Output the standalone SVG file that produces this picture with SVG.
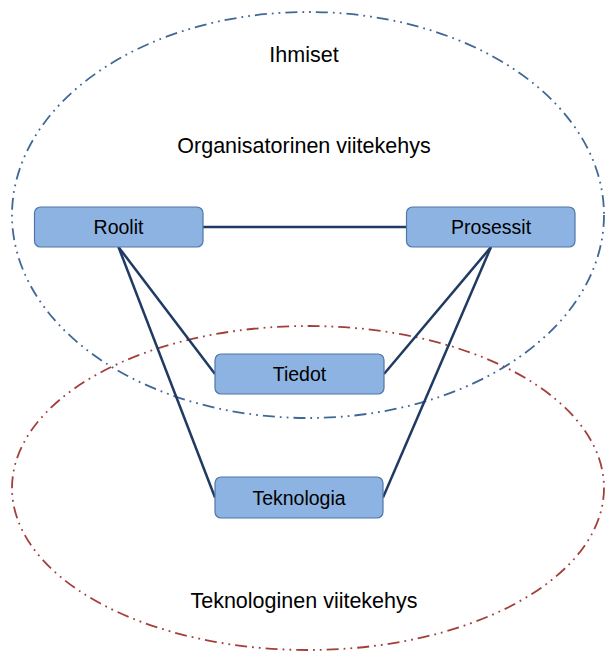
<svg xmlns="http://www.w3.org/2000/svg" width="605" height="652" viewBox="0 0 605 652">
  <style>
    .frame { fill: none; stroke-width: 1.8; stroke-dasharray: 12 5 1.8 5 1.8 5; }
    .people { stroke: #3F6797; }
    .tech { stroke: #A23F3C; }
    .box { fill: #8DB3E2; stroke: #4F76A8; stroke-width: 1.2; }
    .label { font-family: "Liberation Sans", Arial, sans-serif; fill: #000; text-anchor: middle; }
    .area { font-size: 21.5px; }
    .node { font-size: 19.5px; }
    .link { stroke: #1F3A63; stroke-width: 2.5; fill: none; }
  </style>

  <!-- overlapping frameworks -->
  <g id="frames">
    <ellipse class="frame people" cx="308" cy="215" rx="296" ry="203"/>
    <ellipse class="frame tech" cx="308" cy="488" rx="296" ry="162"/>
  </g>

  <g id="area-labels">
    <text class="label area" x="304" y="62">Ihmiset</text>
    <text class="label area" x="304" y="153">Organisatorinen viitekehys</text>
    <text class="label area" x="304" y="608">Teknologinen viitekehys</text>
  </g>

  <g id="connectors">
    <line class="link" x1="203" y1="227" x2="406.5" y2="227"/>
    <line class="link" x1="118.5" y1="247" x2="215" y2="374"/>
    <line class="link" x1="118.5" y1="247" x2="215" y2="497.5"/>
    <line class="link" x1="491" y1="247" x2="384" y2="374"/>
    <line class="link" x1="491" y1="247" x2="383" y2="497.5"/>
  </g>

  <g id="roolit">
    <rect class="box" x="34.5" y="207" width="168.5" height="40" rx="6"/>
    <text class="label node" x="118.5" y="234">Roolit</text>
  </g>
  <g id="prosessit">
    <rect class="box" x="406.5" y="207" width="168.5" height="40" rx="6"/>
    <text class="label node" x="491" y="234">Prosessit</text>
  </g>
  <g id="tiedot">
    <rect class="box" x="215" y="354" width="169" height="40" rx="6"/>
    <text class="label node" x="299.5" y="381">Tiedot</text>
  </g>
  <g id="teknologia">
    <rect class="box" x="215" y="477" width="168" height="41" rx="6"/>
    <text class="label node" x="299" y="504.5">Teknologia</text>
  </g>
</svg>
